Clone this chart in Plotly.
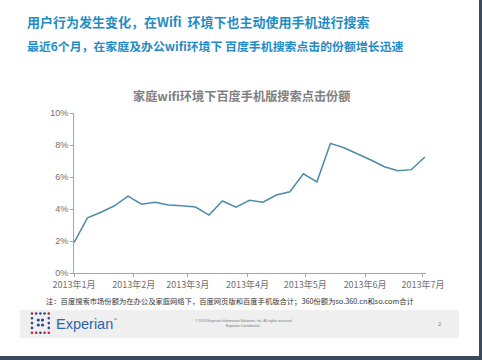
import plotly.graph_objects as go

W, H = 482, 360
ML, MR, MT, MB = 74, 56, 113, 87
PW, PH = W - ML - MR, H - MT - MB

dates = ["2013-01-01", "2013-01-08", "2013-01-15", "2013-01-22", "2013-01-29",
         "2013-02-05", "2013-02-12", "2013-02-19", "2013-02-26", "2013-03-05",
         "2013-03-12", "2013-03-19", "2013-03-26", "2013-04-02", "2013-04-09",
         "2013-04-16", "2013-04-23", "2013-04-30", "2013-05-07", "2013-05-14",
         "2013-05-21", "2013-05-28", "2013-06-04", "2013-06-11", "2013-06-18",
         "2013-06-25", "2013-07-02"]
share = [1.9, 3.45, 3.8, 4.2, 4.8, 4.3, 4.42, 4.25, 4.2, 4.12,
         3.62, 4.5, 4.12, 4.54, 4.42, 4.87, 5.08, 6.2, 5.7, 8.1,
         7.83, 7.46, 7.06, 6.64, 6.39, 6.46, 7.25]
month_ticks = ["2013-01-01", "2013-02-01", "2013-03-01", "2013-04-01",
               "2013-05-01", "2013-06-01", "2013-07-01"]
month_labels = ["2013年1月", "2013年2月", "2013年3月", "2013年4月",
                "2013年5月", "2013年6月", "2013年7月"]
y_ticks = [0, 2, 4, 6, 8, 10]
y_labels = ["0%", "2%", "4%", "6%", "8%", "10%"]


def px(x):
    return (x - ML) / PW


def py(y):
    return 1 - (y - MT) / PH


CJK = "Noto Sans CJK SC"
fig = go.Figure()
fig.add_trace(go.Scatter(x=dates, y=share, mode="lines",
                         line=dict(color="#4b8da8", width=1.5),
                         hoverinfo="x+y"))

ann = []


def text(x, y, s, size, color, xanchor="left", family=CJK, bold=False):
    if bold:
        s = "<b>" + s + "</b>"
    ann.append(dict(x=px(x), y=py(y), xref="paper", yref="paper", text=s,
                    showarrow=False, xanchor=xanchor, yanchor="middle",
                    font=dict(size=size, color=color, family=family)))


text(25, 22, "用户行为发生变化，在Wifi  环境下也主动使用手机进行搜索", 13, "#1f8cc6", bold=True)
text(25, 45, "最近6个月，在家庭及办公wifi环境下 百度手机搜索点击的份额增长迅速", 11.9, "#1f8cc6", bold=True)
text(241, 96, "家庭wifi环境下百度手机版搜索点击份额", 12.2, "#808080", xanchor="center", bold=True)
text(230, 301, "注：百度搜索市场份额为在办公及家庭网络下，百度网页版和百度手机版合计；360份额为so.360.cn和so.com合计",
     7.3, "#333333", xanchor="center")
text(54, 324, "Experian", 14.5, "#2a64ad", family="Liberation Sans")
text(111, 319, "™", 4, "#2a64ad", family="Liberation Sans")
text(243, 321, "© 2013 Experian Information Solutions, Inc. All rights reserved.", 3.5, "#777777",
     xanchor="center", family="Liberation Sans")
text(243, 326, "Experian Confidential.", 3.5, "#777777", xanchor="center", family="Liberation Sans")
text(440, 324, "2", 6, "#888888", xanchor="center", family="Liberation Sans")

shapes = []
# footer band
shapes.append(dict(type="rect", xref="paper", yref="paper", x0=px(20), x1=px(459),
                   y0=py(310), y1=py(338), fillcolor="#efefef", line=dict(width=0), layer="below"))
# slide border
shapes.append(dict(type="rect", xref="paper", yref="paper", x0=px(479), x1=px(482),
                   y0=py(0), y1=py(360), fillcolor="#3b4a5b", line=dict(width=0)))
shapes.append(dict(type="rect", xref="paper", yref="paper", x0=px(0), x1=px(482),
                   y0=py(356), y1=py(360), fillcolor="#3b4a5b", line=dict(width=0)))
# logo dots
grid = [
    "rbbbr",
    "b...b",
    "b...b",
    "b...b",
    "rrbrr",
]
for j, row in enumerate(grid):
    for i, c in enumerate(row):
        if c == ".":
            continue
        cx, cy = 32 + i * 4.2, 313.5 + j * 4.8
        col = "#c8233c" if c == "r" else "#25498f"
        r = 1.3
        shapes.append(dict(type="circle", xref="paper", yref="paper",
                           x0=px(cx - r), x1=px(cx + r), y0=py(cy - r), y1=py(cy + r),
                           fillcolor=col, line=dict(width=0)))
for cx, cy in [(38.3, 320), (42.5, 320), (38.3, 325), (42.5, 325)]:
    r = 1.6
    shapes.append(dict(type="circle", xref="paper", yref="paper",
                       x0=px(cx - r), x1=px(cx + r), y0=py(cy - r), y1=py(cy + r),
                       fillcolor="#25498f", line=dict(width=0)))

fig.update_layout(
    width=W, height=H,
    margin=dict(l=ML, r=MR, t=MT, b=MB),
    paper_bgcolor="white", plot_bgcolor="white",
    showlegend=False,
    annotations=ann, shapes=shapes,
    xaxis=dict(type="date", range=["2013-01-01", "2013-07-02 14:00"],
               tickvals=month_ticks, ticktext=month_labels,
               showgrid=False, zeroline=False,
               showline=True, linecolor="#a6a6a6", linewidth=1,
               ticks="outside", ticklen=3, tickcolor="#a6a6a6",
               tickfont=dict(size=9, color="#707070", family=CJK)),
    yaxis=dict(range=[0, 10], tickvals=y_ticks, ticktext=y_labels,
               showgrid=False, zeroline=False,
               showline=True, linecolor="#a6a6a6", linewidth=1,
               ticks="outside", ticklen=3, tickcolor="#a6a6a6",
               tickfont=dict(size=9, color="#707070", family="Liberation Sans")),
)
fig.write_html("out.html")
